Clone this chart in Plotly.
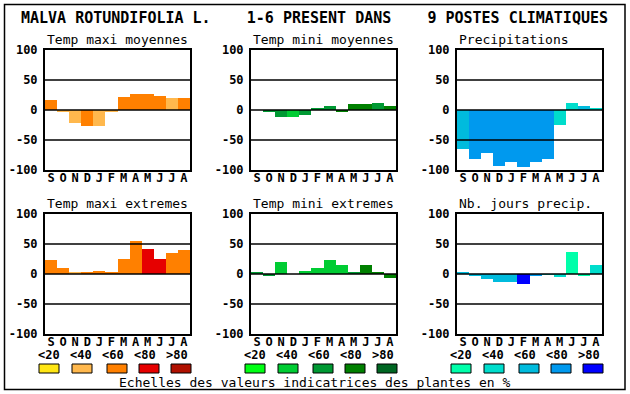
import plotly.graph_objects as go

W, H = 630, 394

months = ["S", "O", "N", "D", "J", "F", "M", "A", "M", "J", "J", "A"]
y_ticks = [100, 50, 0, -50, -100]
class_labels = ["<20", "<40", "<60", "<80", ">80"]

titles = ["Temp maxi moyennes", "Temp mini moyennes", "Precipitations",
          "Temp maxi extremes", "Temp mini extremes", "Nb. jours precip."]

tmax_moy = [17, -3, -22, -27, -27, -3, 22, 27, 27, 23, 20, 20]
tmax_moy_cls = [2, 1, 1, 2, 1, 1, 2, 2, 2, 2, 1, 2]
tmin_moy = [0, -4, -11, -11, -8, 2, 7, -2, 10, 10, 12, 7]
tmin_moy_cls = [2, 2, 2, 1, 2, 2, 2, 3, 3, 3, 2, 3]
precip = [-65, -82, -72, -93, -87, -95, -87, -82, -25, 12, 7, 2]
precip_cls = [2, 3, 3, 3, 3, 3, 3, 3, 1, 1, 2, 1]
tmax_ext = [24, 10, 4, 2, 5, 2, 25, 55, 42, 25, 35, 40]
tmax_ext_cls = [2, 2, 1, 2, 2, 2, 2, 2, 3, 3, 2, 2]
tmin_ext = [2, -3, 20, 0, 5, 10, 24, 15, 2, 15, 4, -6]
tmin_ext_cls = [2, 2, 1, 1, 1, 1, 1, 1, 2, 3, 3, 3]
njours = [4, -2, -8, -13, -13, -16, -4, -1, -5, 37, -2, 15]
njours_cls = [2, 2, 2, 2, 2, 4, 3, 1, 1, 0, 0, 1]

orange_pal = ["#FFE614", "#FFB84D", "#FF8000", "#E60000", "#B01000"]
green_pal = ["#00FF14", "#00CC33", "#009933", "#008000", "#006622"]
blue_pal = ["#00FFAA", "#00DDCC", "#00BBDD", "#0099EE", "#0000FF"]
palettes = [orange_pal, green_pal, blue_pal]

series = [(tmax_moy, tmax_moy_cls), (tmin_moy, tmin_moy_cls), (precip, precip_cls),
          (tmax_ext, tmax_ext_cls), (tmin_ext, tmin_ext_cls), (njours, njours_cls)]

title_text = ("MALVA ROTUNDIFOLIA L.\u00a0\u00a0\u00a0 1-6 PRESENT DANS\u00a0\u00a0\u00a0 "
              "9 POSTES CLIMATIQUES")
footer_text = "Echelles des valeurs indicatrices des plantes en %"

# layout geometry (pixels)
col_left = [45, 251, 457]
col_w = 145
row_top = [50, 214]
row_h = 120
sq_offsets = [4, 37, 72, 104, 136]

FONT = "DejaVu Sans Mono"

fig = go.Figure()
shapes = []
annotations = []

for i, ((vals, cls), title) in enumerate(zip(series, titles)):
    r, c = divmod(i, 3)
    pal = palettes[c]
    ax = "" if i == 0 else str(i + 1)
    x0 = col_left[c]
    y0 = row_top[r]
    fig.add_trace(go.Bar(
        x=list(range(12)), y=vals,
        marker=dict(color=[pal[k] for k in cls], line=dict(width=0)),
        xaxis="x" + ax, yaxis="y" + ax, showlegend=False,
        hoverinfo="skip",
    ))
    fig.update_layout(**{
        "xaxis" + ax: dict(
            domain=[x0 / W, (x0 + col_w) / W], range=[-0.5, 11.5],
            tickmode="array", tickvals=list(range(12)),
            ticktext=[f"<b>{m}</b>" for m in months],
            tickfont=dict(family=FONT, size=12, color="black"),
            showgrid=False, zeroline=False, showline=True, linecolor="black",
            linewidth=2, mirror=True, ticks="", anchor="y" + ax, fixedrange=True,
            automargin=False, ticklabelstandoff=-4,
        ),
        "yaxis" + ax: dict(
            domain=[1 - (y0 + row_h) / H, 1 - y0 / H], range=[-100, 100],
            tickmode="array", tickvals=y_ticks, ticktext=[f"<b>{t}</b>" for t in y_ticks],
            tickfont=dict(family=FONT, size=12, color="black"),
            showgrid=False, zeroline=False, showline=True, linecolor="black",
            linewidth=2, mirror=True, ticks="outside", ticklen=3, tickcolor="rgba(0,0,0,0)",
            anchor="x" + ax, fixedrange=True, automargin=False,
        ),
    })
    for gy in [50, 0, -50]:
        shapes.append(dict(type="line", xref="x" + ax + " domain", yref="y" + ax,
                           x0=0, x1=1, y0=gy, y1=gy, layer="above",
                           line=dict(color="black", width=1.5)))
    annotations.append(dict(
        text=title, x=x0 / W, y=1 - (y0 - 11) / H, xref="paper", yref="paper",
        xanchor="left", yanchor="middle", showarrow=False,
        font=dict(family=FONT, size=13, color="black"),
    ))

# class legends under bottom row
for c in range(3):
    pal = palettes[c]
    for k, lab in enumerate(class_labels):
        annotations.append(dict(
            text=f"<b>{lab}</b>", x=(col_left[c] + 4 + 32 * k) / W, y=1 - 355 / H,
            xref="paper", yref="paper", xanchor="center", yanchor="middle",
            showarrow=False, font=dict(family=FONT, size=12, color="black"),
        ))
        cx = col_left[c] + sq_offsets[k]
        shapes.append(dict(type="rect", xref="paper", yref="paper",
                           x0=(cx - 10) / W, x1=(cx + 10) / W,
                           y0=1 - 373 / H, y1=1 - 364 / H,
                           fillcolor=pal[k], line=dict(color="black", width=1)))

annotations.append(dict(
    text=f"<b>{title_text}</b>", x=314.5 / W, y=1 - 18 / H, xref="paper", yref="paper",
    xanchor="center", yanchor="middle", showarrow=False,
    font=dict(family=FONT, size=15, color="black"),
))
annotations.append(dict(
    text=footer_text, x=314.5 / W, y=1 - 382 / H, xref="paper", yref="paper",
    xanchor="center", yanchor="middle", showarrow=False,
    font=dict(family=FONT, size=13, color="black"),
))

# outer frame
shapes.append(dict(type="rect", xref="paper", yref="paper",
                   x0=4.5 / W, x1=625 / W, y0=1 - 389.5 / H, y1=1 - 4.5 / H,
                   line=dict(color="black", width=1.5), fillcolor="rgba(0,0,0,0)"))

fig.update_layout(
    template="none",
    width=W, height=H, margin=dict(l=0, r=0, t=0, b=0, pad=0),
    paper_bgcolor="white", plot_bgcolor="white",
    bargap=0, shapes=shapes, annotations=annotations,
    font=dict(family=FONT, color="black"),
)

fig.write_html(
    "out.html",
    config={"displayModeBar": False},
    post_script="document.body.style.margin='0';document.body.style.overflow='hidden';",
)
